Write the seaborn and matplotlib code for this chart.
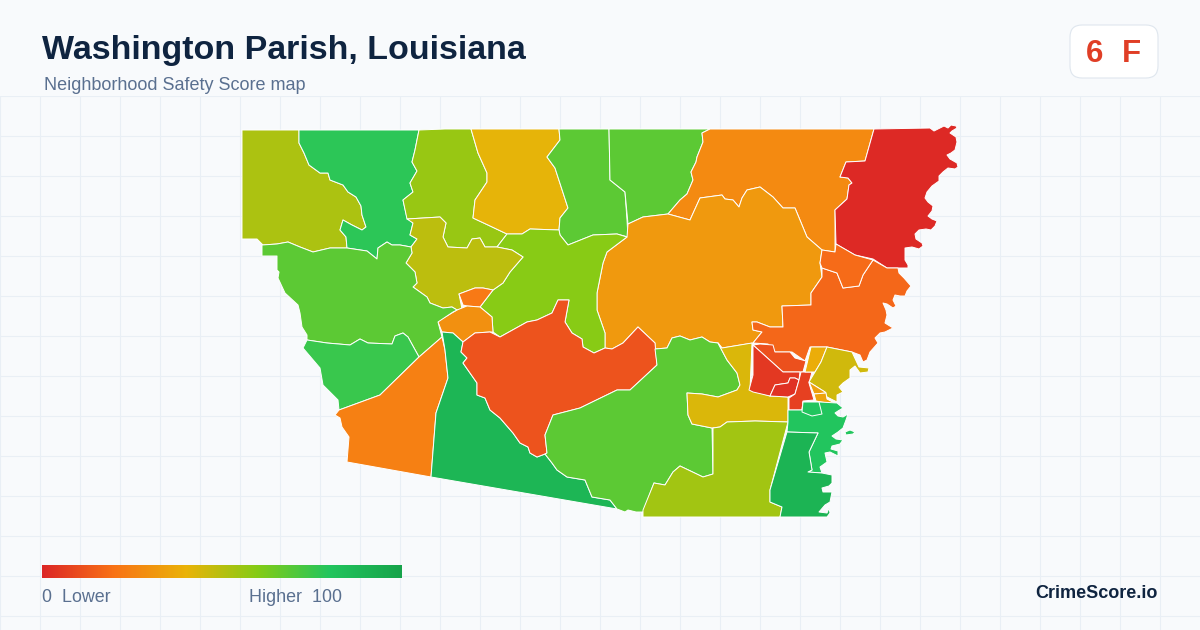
import numpy as np
import matplotlib.pyplot as plt
from matplotlib.patches import FancyBboxPatch
import seaborn as sns

# score colours, same stops as the legend bar
stop_colors = ["#dc2626", "#f97316", "#eab308", "#84cc16", "#22c55e", "#16a34a"]
bg = "#f8fafc"
grid_col = "#e9eff5"
navy = "#0f2440"
slate = "#5a7090"

title = "Washington Parish, Louisiana"
subtitle = "Neighborhood Safety Score map"
grade_value = "6"
grade_letter = "F"
legend_low = "0  Lower"
legend_high = "Higher  100"
brand = "CrimeScore.io"

# Region outlines (x, y going down)
nw_olive = [(242,130),(299,130),(299,143),(304,153),(309,165),(320,173),(328,173),(330,180),(343,185),(348,192),(356,197),(361,206),(362,215),(366,227),(362,230),(352,225),(343,220),(340,230),(346,237),(347,248),(330,248),(313,252),(300,247),(288,242),(277,244),(263,245),(257,239),(242,239)]
nw_green = [(299,130),(419,130),(415,150),(412,162),(417,171),(410,183),(413,192),(403,200),(407,218),(413,223),(410,235),(417,239),(411,247),(400,245),(392,245),(387,242),(378,248),(377,259),(367,251),(347,248),(346,237),(340,230),(343,220),(352,225),(362,230),(366,227),(362,215),(361,206),(356,197),(348,192),(343,185),(330,180),(328,173),(320,173),(309,165),(304,153),(299,143)]
north_lime = [(419,130),(445,129),(471,129),(478,153),(487,173),(487,182),(475,200),(473,218),(488,225),(507,234),(497,247),(485,247),(480,238),(472,239),(467,248),(448,247),(443,237),(446,223),(440,217),(407,219),(403,200),(413,192),(410,183),(417,171),(412,162),(415,150)]
north_yellow = [(471,129),(559,129),(560,140),(547,157),(555,168),(568,208),(560,218),(559,230),(530,229),(522,234),(507,234),(488,225),(473,218),(475,200),(487,182),(487,173),(478,153)]
north_green_a = [(559,129),(609,129),(610,180),(625,192),(627,220),(628,237),(617,234),(593,235),(568,245),(560,235),(559,230),(560,218),(568,208),(555,168),(547,157),(560,140)]
north_green_b = [(609,129),(710,129),(702,133),(703,142),(697,157),(696,162),(691,172),(693,180),(687,194),(680,200),(668,214),(643,217),(628,224),(625,192),(610,180)]
ne_orange = [(710,129),(874,129),(865,161),(846,162),(840,177),(848,178),(852,183),(849,185),(847,199),(835,210),(835,252),(822,250),(807,237),(795,208),(783,208),(773,197),(760,187),(747,190),(742,198),(739,207),(733,200),(725,199),(722,195),(700,198),(690,220),(668,214),(680,200),(687,194),(693,180),(691,172),(696,162),(697,157),(703,142),(702,133)]
ne_red = [(874,129),(930,128),(934,131),(940,128),(944,126),(948,128),(951,125),(956,126),(957,128),(952,131),(950,133),(956,137),(957,142),(955,150),(951,153),(947,155),(950,159),(957,163),(958,167),(955,169),(948,168),(943,172),(939,176),(939,181),(932,186),(927,192),(925,198),(928,202),(933,206),(932,211),(928,216),(932,219),(937,221),(935,226),(931,230),(926,229),(919,230),(915,234),(916,239),(922,243),(923,246),(919,249),(912,247),(905,248),(905,254),(905,260),(908,265),(908,268),(887,268),(873,259),(855,255),(836,244),(835,210),(847,199),(849,185),(852,183),(848,178),(840,177),(846,162),(865,161)]
center_orange = [(668,214),(690,220),(700,198),(722,195),(725,199),(733,200),(739,207),(742,198),(747,190),(760,187),(773,197),(783,208),(795,208),(807,237),(822,250),(820,263),(822,277),(811,293),(811,305),(782,306),(783,327),(770,327),(757,322),(752,322),(753,330),(762,332),(753,343),(722,348),(718,343),(710,342),(702,337),(690,340),(680,336),(672,338),(667,348),(655,349),(655,343),(638,327),(623,343),(612,349),(605,348),(605,333),(597,310),(597,293),(603,263),(607,252),(627,237),(628,224),(643,217)]
center_lime = [(507,234),(522,234),(530,229),(559,230),(560,235),(568,245),(593,235),(617,234),(627,237),(607,252),(603,263),(597,293),(597,310),(605,333),(605,348),(594,353),(583,347),(582,339),(572,333),(565,322),(569,300),(558,300),(552,313),(537,320),(527,322),(500,337),(493,332),(492,317),(480,307),(493,290),(503,283),(510,272),(523,257),(512,250),(497,247)]
center_olive = [(407,219),(440,217),(446,223),(443,237),(448,247),(467,248),(472,239),(480,238),(485,247),(497,247),(512,250),(523,257),(510,272),(503,283),(493,290),(483,288),(475,288),(459,294),(462,309),(457,310),(452,307),(443,308),(430,303),(427,297),(413,287),(417,283),(415,272),(406,263),(412,253),(411,247),(417,239),(410,235),(413,223)]
small_orange = [(459,294),(475,288),(483,288),(493,290),(480,307),(467,306),(463,305)]
mid_orange = [(440,320),(457,310),(467,306),(480,307),(492,317),(493,332),(490,332),(475,333),(463,342),(453,333),(442,332),(438,322)]
west_green = [(262,245),(262,256),(277,256),(277,270),(279,272),(278,278),(285,293),(298,305),(300,313),(302,327),(307,335),(307,340),(327,343),(350,345),(360,339),(368,343),(392,344),(395,336),(403,333),(408,337),(419,357),(442,337),(438,322),(453,312),(457,310),(452,307),(443,308),(430,303),(427,297),(413,287),(417,283),(415,272),(406,263),(412,253),(411,247),(400,245),(392,245),(387,242),(378,248),(377,259),(367,251),(347,248),(330,248),(313,252),(300,247),(288,242),(277,244)]
sw_green = [(307,340),(327,343),(350,345),(360,339),(368,343),(392,344),(395,336),(403,333),(408,337),(419,357),(380,395),(339,410),(338,400),(323,385),(320,368),(303,348)]
sw_orange = [(335,415),(339,410),(380,395),(419,357),(442,337),(445,350),(448,378),(436,413),(431,477),(347,462),(349,437),(342,427),(340,418)]
sw_dark = [(442,332),(453,333),(463,342),(461,352),(467,358),(463,363),(477,383),(477,395),(485,398),(490,410),(500,418),(513,433),(520,443),(528,447),(530,453),(537,457),(545,454),(552,463),(557,470),(567,477),(585,480),(592,497),(610,500),(617,509),(431,477),(436,413),(448,378),(445,350)]
red_orange = [(463,342),(475,333),(490,332),(500,337),(527,322),(537,320),(552,313),(558,300),(569,300),(565,322),(572,333),(582,339),(583,347),(594,353),(605,348),(612,349),(623,343),(638,327),(655,343),(657,365),(643,378),(630,390),(617,390),(580,408),(553,415),(545,435),(547,453),(545,454),(537,457),(530,453),(528,447),(520,443),(513,433),(500,418),(490,410),(485,398),(477,395),(477,383),(463,363),(467,358),(461,352)]
south_green = [(553,415),(580,408),(617,390),(630,390),(643,378),(657,365),(655,349),(667,348),(672,338),(680,336),(690,340),(702,337),(710,342),(718,343),(727,360),(737,373),(740,385),(737,390),(718,397),(702,394),(687,393),(688,415),(692,424),(712,428),(713,474),(703,477),(680,466),(673,472),(665,485),(654,483),(643,512),(636,512),(628,510),(625,512),(617,509),(610,500),(592,497),(585,480),(567,477),(557,470),(552,463),(545,454),(547,453),(545,435)]
south_yellow = [(722,348),(752,343),(750,390),(770,396),(788,397),(788,422),(755,421),(727,422),(720,427),(712,428),(692,424),(688,415),(687,393),(702,394),(718,397),(737,390),(740,385),(737,373),(727,360),(718,343)]
south_olive = [(788,422),(770,490),(770,502),(782,507),(780,517),(643,517),(643,510),(654,483),(665,485),(673,472),(680,466),(703,477),(713,474),(713,428),(720,427),(727,422),(755,421)]
se_orange = [(873,260),(887,268),(898,268),(899,273),(904,278),(911,286),(907,291),(905,296),(900,296),(895,295),(893,300),(896,306),(893,308),(887,304),(883,303),(886,310),(887,315),(885,323),(893,328),(885,332),(880,333),(875,338),(878,343),(870,352),(867,360),(863,362),(860,355),(852,352),(827,347),(810,347),(805,361),(792,352),(775,352),(768,344),(753,343),(762,332),(753,330),(752,322),(757,322),(770,327),(783,327),(782,306),(811,305),(811,293),(822,277),(822,268),(837,273),(843,288),(859,286),(863,275)]
se_small_orange = [(822,250),(835,252),(836,244),(855,255),(873,260),(863,275),(859,286),(843,288),(837,273),(822,268),(820,263)]
town_a = [(753,345),(760,344),(773,345),(775,352),(790,352),(795,358),(806,361),(803,372),(783,372)]
town_b = [(753,345),(783,372),(800,372),(799,380),(795,378),(790,378),(788,383),(775,385),(770,396),(753,392),(749,390),(753,375),(753,360)]
town_c = [(770,396),(775,385),(788,383),(790,378),(795,378),(799,380),(795,394),(788,397)]
town_d = [(801,372),(812,372),(809,383),(814,400),(803,401),(802,410),(789,410),(789,398),(795,394),(799,380)]
town_e = [(811,347),(827,347),(821,362),(815,372),(805,372)]
town_f = [(827,347),(852,352),(859,367),(869,368),(868,372),(860,373),(855,366),(850,370),(850,378),(843,383),(839,387),(843,392),(837,395),(837,402),(827,397),(825,392),(809,382),(815,372),(821,362)]
town_g = [(809,382),(825,392),(826,393),(814,394)]
town_h = [(814,394),(826,393),(827,399),(838,405),(816,401)]
coast_green = [(788,410),(802,410),(803,402),(820,402),(837,403),(843,408),(838,411),(835,413),(838,416),(843,417),(848,414),(846,420),(843,428),(838,432),(832,436),(836,439),(843,440),(840,444),(832,446),(831,449),(838,451),(838,456),(830,452),(825,453),(827,462),(820,467),(822,473),(808,472),(812,470),(809,452),(818,433),(787,432),(788,422)]
coast_island = [(845,432),(850,430),(855,432),(853,434),(846,435)]
coast_box = [(803,402),(819,402),(822,414),(812,416),(802,412)]
coast_dark = [(787,432),(818,433),(809,452),(812,470),(808,472),(822,473),(832,475),(832,483),(829,486),(822,488),(823,492),(832,492),(830,502),(825,505),(819,512),(827,513),(829,508),(830,513),(827,517),(780,517),(782,507),(770,502),(770,490)]

region_shapes = [nw_olive, nw_green, north_lime, north_yellow, north_green_a, north_green_b,
                 ne_orange, ne_red, center_orange, center_lime, center_olive, small_orange,
                 mid_orange, west_green, sw_green, sw_orange, sw_dark, red_orange, south_green,
                 south_yellow, south_olive, se_orange, se_small_orange, town_a, town_b, town_c,
                 town_d, town_e, town_f, town_g, town_h, coast_green, coast_island, coast_box, coast_dark]
region_scores = [52, 78, 56, 41, 68, 68,
                 27, 1, 32, 59, 49, 22,
                 29, 68, 75, 24, 89, 12, 68,
                 43, 54, 17, 18, 11, 5, 3,
                 7, 38, 45, 34, 35, 80, 80, 80, 90]

sns.set_theme(style="whitegrid", rc={"axes.facecolor": bg, "figure.facecolor": bg,
                                     "grid.color": grid_col, "grid.linewidth": 0.8})
plt.rcParams['font.family'] = ['Liberation Sans', 'DejaVu Sans']

score_cmap = sns.blend_palette(stop_colors, as_cmap=True)

fig = plt.figure(figsize=(12, 6.3), dpi=100)
ax = fig.add_axes([0, 0, 1, (630 - 96) / 630])

for shape, score in zip(region_shapes, region_scores):
    xs, ys = zip(*shape)
    ax.fill(xs, ys, facecolor=score_cmap(score / 100), edgecolor="white", lw=0.7, joinstyle="round", zorder=3)

# legend bar
gradient = np.linspace(0, 1, 256).reshape(1, -1)
ax.imshow(gradient, cmap=score_cmap, extent=(42, 402, 578, 565), aspect="auto", zorder=3)

ax.set_xlim(0, 1200)
ax.set_ylim(630, 96)
ax.set_xticks(np.arange(0, 1200, 40))
ax.set_yticks(np.arange(96, 630, 40))
ax.tick_params(labelbottom=False, labelleft=False, length=0)
ax.set_axisbelow(True)
sns.despine(ax=ax, left=True, bottom=True)
ax.spines["top"].set_visible(False)

# header, badge, footer in pixel positions
def fx(x):
    return x / 1200
def fy(y):
    return 1 - y / 630

fig.text(fx(42), fy(59), title, fontsize=24.45, fontweight="bold", color=navy)
fig.text(fx(44), fy(90), subtitle, fontsize=12.95, color=slate)

badge = FancyBboxPatch((1080, 35), 68, 33, boxstyle="round,pad=0,rounding_size=2", transform=ax.transData,
                       facecolor="white", edgecolor="#dfe6ee", lw=0.8, clip_on=False, zorder=5)
badge.set_boxstyle("round,pad=10,rounding_size=12")
fig.add_artist(badge)
fig.text(fx(1095), fy(62), grade_value, fontsize=22.5, fontweight="bold", color="#e03e26", ha="center", zorder=6)
fig.text(fx(1131), fy(62), grade_letter, fontsize=22.5, fontweight="bold", color="#e03e26", ha="center", zorder=6)

fig.text(fx(42), fy(602), legend_low, fontsize=12.9, color=slate)
fig.text(fx(249), fy(602), legend_high, fontsize=12.9, color=slate)
fig.text(fx(1158), fy(598), brand, fontsize=13.0, fontweight="bold", color=navy, ha="right")

fig.savefig("out.png", dpi=100, facecolor=bg)
